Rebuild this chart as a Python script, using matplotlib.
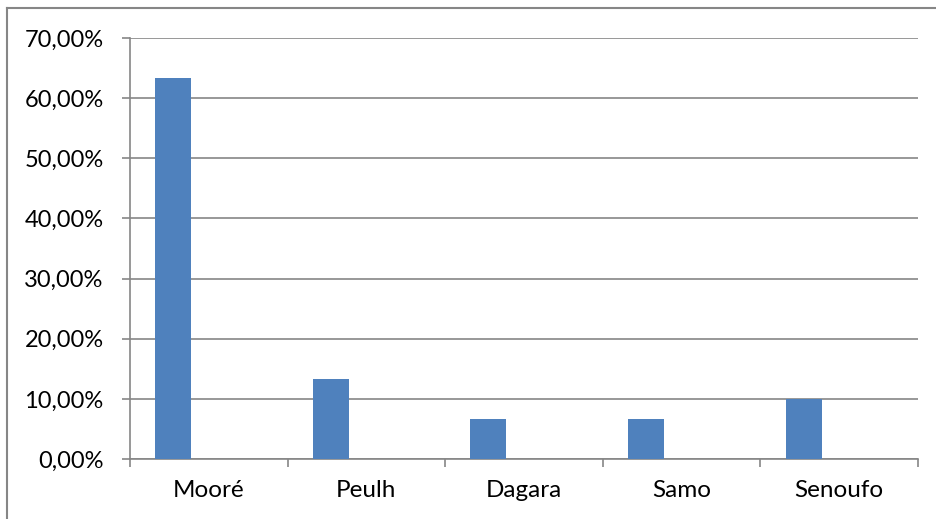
import matplotlib
matplotlib.use("Agg")
import matplotlib.pyplot as plt
import matplotlib.ticker as mtick
import numpy as np
from matplotlib.lines import Line2D

# Data
categories = ["Mooré", "Peulh", "Dagara", "Samo", "Senoufo"]
shares = [63.33, 13.33, 6.67, 6.67, 10.0]
y_ticks = [0, 10, 20, 30, 40, 50, 60, 70]

plt.rcParams['font.family'] = ['Lato', 'DejaVu Sans']

fig = plt.figure(figsize=(9.36, 5.19), dpi=100)
ax = fig.add_axes([130 / 936, 1 - 459 / 519, 788 / 936, 421 / 519])

grey = '#868686'
x = np.arange(len(categories))
ax.bar(x - 0.226, shares, width=0.228, color='#4F81BD', zorder=3)

ax.set_xlim(-0.5, len(categories) - 0.5)
ax.set_ylim(0, 70)
ax.set_yticks(y_ticks)
ax.yaxis.set_major_formatter(mtick.FuncFormatter(lambda v, _: f'{v:.2f}%'.replace('.', ',')))
ax.grid(axis='y', color=grey, linewidth=1.2, zorder=0)

# category labels at centres, tick marks at boundaries
ax.set_xticks(np.arange(-0.5, len(categories), 1.0))
ax.set_xticklabels([])
ax.set_xticks(x, minor=True)
ax.set_xticklabels(categories, minor=True)
ax.tick_params(axis='x', which='minor', length=0, pad=15, labelsize=17.5)
ax.tick_params(axis='x', which='major', length=6, width=1.2, color=grey)
ax.tick_params(axis='y', length=6, width=1.2, color=grey, labelsize=17, pad=13)

for side in ['top', 'right']:
    ax.spines[side].set_visible(False)
for side in ['left', 'bottom']:
    ax.spines[side].set_color(grey)
    ax.spines[side].set_linewidth(1.2)

# outer chart border (top and left edges only visible in the crop)
bx, by = 7.5 / 936, 1 - 7.5 / 519
fig.add_artist(Line2D([bx, 1], [by, by], transform=fig.transFigure, color=grey, linewidth=1.5))
fig.add_artist(Line2D([bx, bx], [0, by], transform=fig.transFigure, color=grey, linewidth=1.5))

fig.savefig("out.png", dpi=100)
